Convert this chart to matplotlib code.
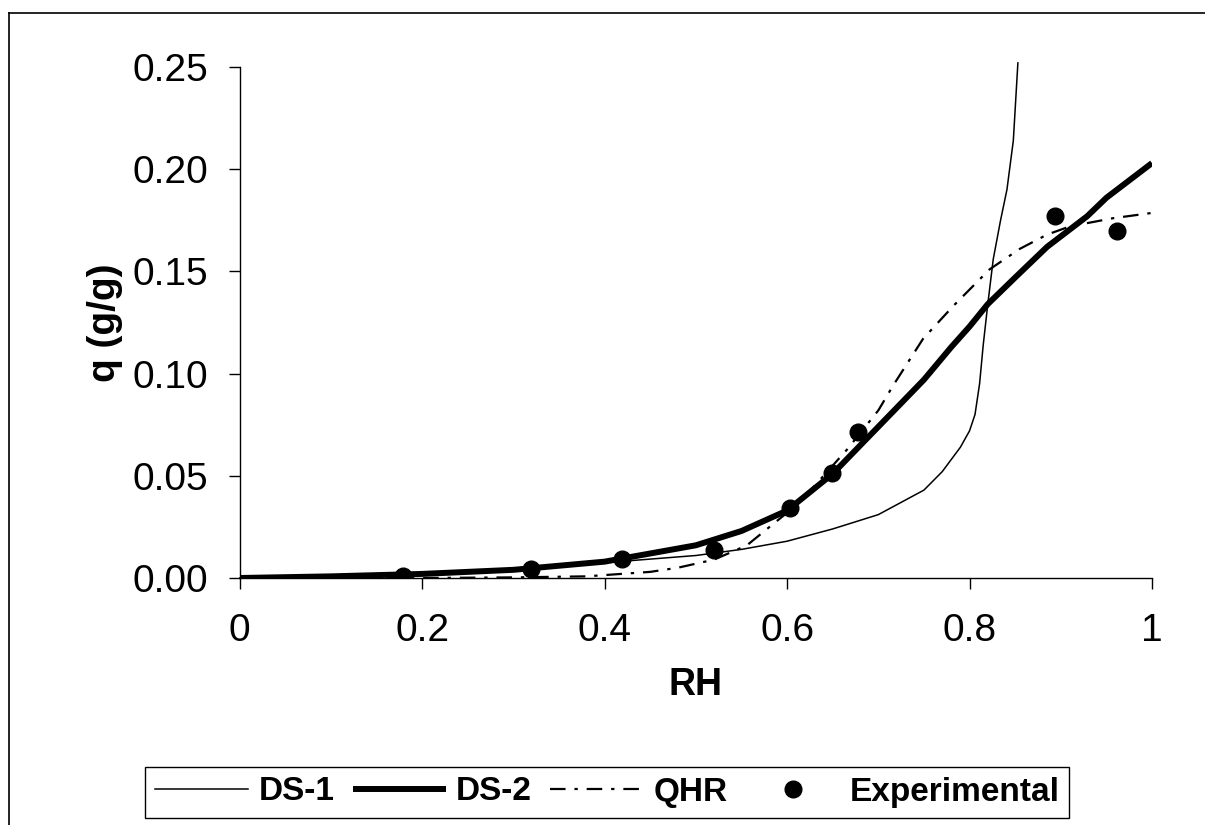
import numpy as np
import matplotlib
matplotlib.use("Agg")
import matplotlib.pyplot as plt
from matplotlib.lines import Line2D

plt.rcParams['font.family'] = ['Liberation Sans', 'DejaVu Sans']

# DS-1 model (thin line)
ds1_rh = [0, 0.1, 0.2, 0.3, 0.4, 0.5, 0.55, 0.6, 0.65, 0.7, 0.75, 0.77, 0.79, 0.8,
          0.806, 0.811, 0.815, 0.82, 0.826, 0.834, 0.841, 0.848, 0.853]
ds1_q = [0, 0.0008, 0.002, 0.004, 0.0075, 0.011, 0.014, 0.018, 0.024, 0.031,
         0.043, 0.052, 0.064, 0.072, 0.08, 0.095, 0.114, 0.134, 0.156, 0.175,
         0.19, 0.214, 0.252]

# DS-2 model (thick line)
ds2_rh = [0, 0.1, 0.2, 0.3, 0.4, 0.5, 0.55, 0.6, 0.65, 0.7, 0.75, 0.78, 0.8,
          0.82, 0.85, 0.885, 0.929, 0.95, 1.0]
ds2_q = [0, 0.0008, 0.002, 0.004, 0.008, 0.016, 0.023, 0.033, 0.051, 0.074,
         0.097, 0.113, 0.123, 0.134, 0.147, 0.162, 0.177, 0.186, 0.203]

# QHR model (dash-dot)
qhr_rh = [0, 0.2, 0.3, 0.38, 0.45, 0.48, 0.52, 0.556, 0.578, 0.603, 0.63,
          0.666, 0.70, 0.716, 0.749, 0.782, 0.822, 0.855, 0.885, 0.91, 0.957, 1.0]
qhr_q = [0, 0, 0.0003, 0.0008, 0.003, 0.005, 0.009, 0.016, 0.024, 0.033, 0.045,
         0.063, 0.082, 0.094, 0.117, 0.133, 0.151, 0.161, 0.168, 0.172, 0.176, 0.1786]

# Experimental points
exp_rh = [0.179, 0.319, 0.419, 0.52, 0.603, 0.649, 0.678, 0.894, 0.962]
exp_q = [0.001, 0.0044, 0.0093, 0.0137, 0.034, 0.0514, 0.0714, 0.177, 0.170]

xticks = [0, 0.2, 0.4, 0.6, 0.8, 1.0]
xticklabels = ['0', '0.2', '0.4', '0.6', '0.8', '1']
yticks = [0, 0.05, 0.10, 0.15, 0.20, 0.25]
yticklabels = ['0.00', '0.05', '0.10', '0.15', '0.20', '0.25']

fig = plt.figure(figsize=(12.05, 8.25), dpi=100)
ax = fig.add_axes([0.199, 0.2994, 0.757, 0.6194])

ax.plot(ds1_rh, ds1_q, color='black', lw=1.1, label='DS-1', clip_on=False)
ax.plot(ds2_rh, ds2_q, color='black', lw=4.3, label='DS-2', solid_capstyle='butt')
ax.plot(qhr_rh, qhr_q, color='black', lw=1.6, linestyle=(0, (7, 4, 1.5, 4)), label='QHR')
ax.plot(exp_rh, exp_q, 'o', color='black', ms=12, label='Experimental')

ax.set_xlim(0, 1)
ax.set_ylim(0, 0.25)
ax.set_xticks(xticks)
ax.set_xticklabels(xticklabels)
ax.set_yticks(yticks)
ax.set_yticklabels(yticklabels)
ax.tick_params(axis='both', labelsize=28, length=8, width=1, direction='out', color='black')
ax.tick_params(axis='x', pad=17)
ax.tick_params(axis='y', pad=15)
ax.spines['top'].set_visible(False)
ax.spines['right'].set_visible(False)
ax.spines['left'].set_linewidth(1)
ax.spines['bottom'].set_linewidth(1)

ax.set_xlabel('RH', fontsize=27, fontweight='bold', labelpad=13)
ax.set_ylabel('q (g/g)', fontsize=28, fontweight='bold')
ax.yaxis.set_label_coords(-0.128, 0.5)

leg = ax.legend(loc='center', bbox_to_anchor=(0.504, 0.04), bbox_transform=fig.transFigure,
                ncol=4, prop={'weight': 'bold', 'size': 24},
                frameon=True, fancybox=False, edgecolor='black', framealpha=1,
                handlelength=2.8, handletextpad=0.3, columnspacing=0.55,
                borderpad=0.3, borderaxespad=0)
leg.get_frame().set_linewidth(1)

# figure border (left and top edges visible in the scan)
fig.add_artist(Line2D([0.0075, 0.0075], [0, 0.984], transform=fig.transFigure, color='black', lw=1.2))
fig.add_artist(Line2D([0.0075, 1.0], [0.984, 0.984], transform=fig.transFigure, color='black', lw=1.2))

fig.savefig('out.png', dpi=100)
